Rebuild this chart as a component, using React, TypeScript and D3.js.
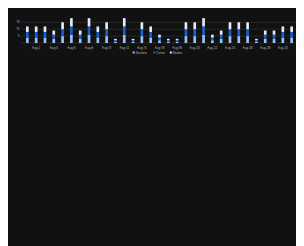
import React from "react";
import * as d3 from "d3";

// one value per day, Aug 1 .. Aug 31; the three series stack to the same height
const days = d3.range(1, 32).map((d) => `Aug ${d}`);
const sockets = [4, 4, 4, 3, 5, 6, 3, 6, 4, 5, 1, 6, 1, 5, 4, 2, 1, 1, 5, 5, 6, 2, 3, 5, 5, 5, 1, 3, 3, 4, 4];
const cores = [4, 4, 4, 3, 5, 6, 3, 6, 4, 5, 1, 6, 1, 5, 4, 2, 1, 1, 5, 5, 6, 2, 3, 5, 5, 5, 1, 3, 3, 4, 4];
const nodes = [4, 4, 4, 3, 5, 6, 3, 6, 4, 5, 1, 6, 1, 5, 4, 2, 1, 1, 5, 5, 6, 2, 3, 5, 5, 5, 1, 3, 3, 4, 4];
const seriesNames = ["Sockets", "Cores", "Nodes"];
const seriesColors = ["#9cc4f2", "#0f62d6", "#e6edf8"];
const yTicks = [5, 10, 15];
const xTickLabels = days.filter((_, i) => i % 2 === 1);

const W = 290;
const H = 240;

export default function App() {
  const rows = days.map((day, i) => ({ day, Sockets: sockets[i], Cores: cores[i], Nodes: nodes[i] }));
  const stacked = d3.stack<any>().keys(seriesNames)(rows);

  const x = d3.scaleBand().domain(days).range([13, 290]).paddingInner(0.7).paddingOuter(0.57);
  const y = d3.scaleLinear().domain([0, 15]).range([35, 14.3]);

  // legend items laid out one after another, width from the label length
  const itemW = seriesNames.map((n) => 6 + n.length * 2.1);
  const legendTotal = d3.sum(itemW);
  const legendStart = (13 + 290) / 2 - legendTotal / 2;
  const legendPos = seriesNames.map((_, i) => legendStart + d3.sum(itemW.slice(0, i)));

  return (
    <svg width={W} height={H} style={{ display: "block", background: "#111111" }} fontFamily="Inter, 'DejaVu Sans', sans-serif">
      {[0, ...yTicks].map((t) => (
        <line key={t} x1={13} x2={290} y1={y(t)} y2={y(t)} stroke="#2c2c2c" strokeWidth={0.8} />
      ))}
      {yTicks.map((t) => (
        <text key={t} x={11.5} y={y(t)} dy="0.35em" textAnchor="end" fontSize={3} fill="#bdbdbd">
          {t}
        </text>
      ))}
      {stacked.map((s, si) => (
        <g key={s.key} fill={seriesColors[si]}>
          {s.map((d, i) => (
            <rect
              key={i}
              x={x(days[i])}
              width={x.bandwidth()}
              y={y(d[1])}
              height={y(d[0]) - y(d[1])}
            />
          ))}
        </g>
      ))}
      {xTickLabels.map((d) => (
        <text key={d} x={(x(d) as number) + x.bandwidth() / 2} y={39.5} dy="0.35em" textAnchor="middle" fontSize={3} fill="#bdbdbd">
          {d}
        </text>
      ))}
      {seriesNames.map((n, i) => (
        <g key={n} transform={`translate(${legendPos[i]},44.5)`}>
          <rect x={0} y={-1} width={2} height={2} fill={seriesColors[i]} />
          <text x={3} y={0} dy="0.35em" fontSize={3} fill="#bdbdbd">
            {n}
          </text>
        </g>
      ))}
    </svg>
  );
}
